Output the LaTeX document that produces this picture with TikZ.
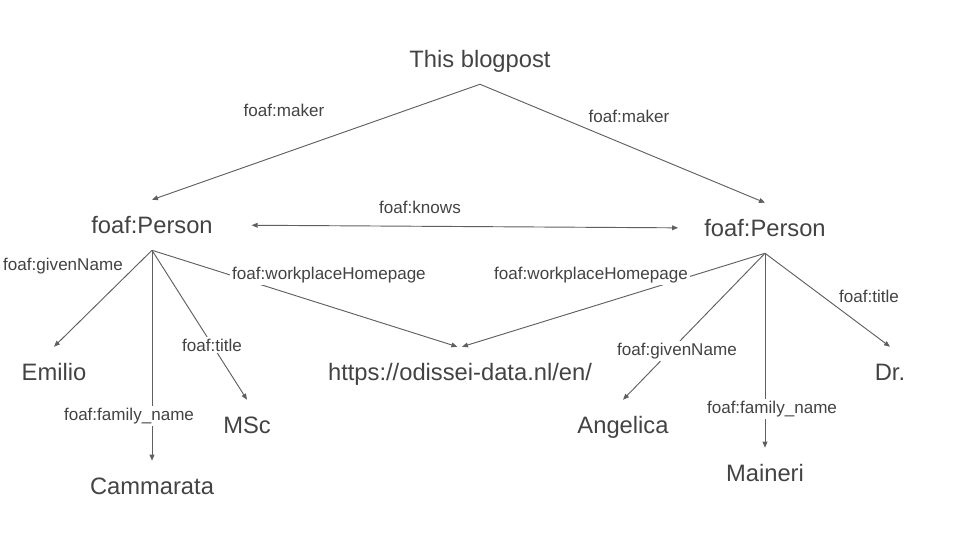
\documentclass[tikz,border=0pt]{standalone}
\usepackage{fontspec}
\setmainfont{Liberation Sans}
\usetikzlibrary{arrows.meta}
\definecolor{txtgray}{HTML}{434343}
\definecolor{linegray}{HTML}{5F5F5F}

\begin{document}
\begin{tikzpicture}[
  x=0.75pt, y=-0.75pt,
  val/.style={text=txtgray, font=\fontsize{17.8}{21}\selectfont, inner sep=0pt,
    minimum height=37.5pt, text height=12.7pt, text depth=0pt},
  prop/.style={text=txtgray, font=\fontsize{12.8}{15}\selectfont, fill=white, inner sep=1.5pt},
  rel/.style={draw=linegray, line width=0.7pt, -{Triangle[length=4.5pt,width=3.6pt]}},
  both/.style={rel, {Triangle[length=4.5pt,width=3.6pt]}-{Triangle[length=4.5pt,width=3.6pt]}}]
\useasboundingbox (0,0) rectangle (960,540);
% resources and literals
\node[val] (blog) at (480,59) {This blogpost};
\node[val] (p1) at (152,225) {foaf:Person};
\node[val] (p2) at (765,228) {foaf:Person};
\node[val] (emilio) at (54,372) {Emilio};
\node[val] (cammarata) at (152,486) {Cammarata};
\node[val] (msc) at (247,425) {MSc};
\node[val] (url) at (460,372) {https://odissei-data.nl/en/};
\node[val] (angelica) at (623,425) {Angelica};
\node[val] (maineri) at (765,473) {Maineri};
\node[val] (dr) at (890,372) {Dr.};
% triples
\draw[rel] (blog.south) -- (p1.north);
\draw[rel] (blog.south) -- (p2.north);
\draw[both, shorten <=29pt, shorten >=19.5pt] (p1.east) -- (p2.west);
\draw[rel] (p1.south) -- (emilio.north);
\draw[rel] (p1.south) -- (cammarata.north);
\draw[rel] (p1.south) -- (msc.north);
\draw[rel] (p1.south) -- ([xshift=-2pt]url.north);
\draw[rel] (p2.south) -- ([xshift=1.5pt]url.north);
\draw[rel] (p2.south) -- (angelica.north);
\draw[rel] (p2.south) -- (maineri.north);
\draw[rel] (p2.south) -- (dr.north);
% predicate labels
\node[prop] (mk1) at (284,110) {foaf:maker};
\node[prop] (mk2) at (629,116) {foaf:maker};
\node[prop] (kn) at (420,207) {foaf:knows};
\node[prop] (gn1) at (63,266) {foaf:givenName};
\node[prop] (wp1) at (329,275) {foaf:workplaceHomepage};
\node[prop] (tt1) at (212,345) {foaf:title};
\node[prop] (fn1) at (129,416) {foaf:family\_name};
\node[prop] (wp2) at (591,275) {foaf:workplaceHomepage};
\node[prop] (gn2) at (677,351) {foaf:givenName};
\node[prop] (fn2) at (772,409) {foaf:family\_name};
\node[prop] (tt2) at (869,296) {foaf:title};
\end{tikzpicture}
\end{document}
